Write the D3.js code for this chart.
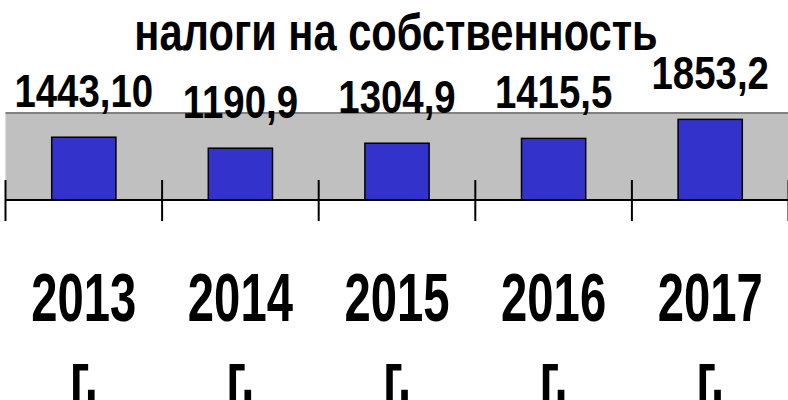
<!DOCTYPE html>
<html>
<head>
<meta charset="utf-8">
<script src="https://cdn.jsdelivr.net/npm/d3@7"></script>
<style>
  html, body { margin: 0; padding: 0; background: #fff; }
  svg { display: block; }
  text { font-family: "Liberation Sans", Arial, sans-serif; font-weight: bold; }
</style>
</head>
<body>
<div id="chart"></div>
<script>
// Data
const years = ["2013", "2014", "2015", "2016", "2017"];
const yearSuffix = "г.";
const values = [1443.10, 1190.9, 1304.9, 1415.5, 1853.2];
const valueLabels = ["1443,10", "1190,9", "1304,9", "1415,5", "1853,2"];
const chartTitle = "налоги на собственность";

// Constants
const WIDTH = 788;
const HEIGHT = 400;
const PLOT = { left: 5.5, right: 788.5, top: 113, bottom: 200 };
const Y_MAX = 2000;
const BAR_FRACTION = 0.41;
const BAR_FILL = "#3333cc";
const PLOT_FILL = "#c0c0c0";
// narrow look: regular bold font squeezed horizontally
const TITLE_SQUEEZE = 0.8;
const VALUE_SQUEEZE = 0.835;
const YEAR_SQUEEZE = 0.695;

const data = years.map((y, i) => ({ year: y, value: values[i], label: valueLabels[i] }));

const xScale = d3.scaleBand().domain(years).range([PLOT.left, PLOT.right]).padding(0);
const yScale = d3.scaleLinear().domain([0, Y_MAX]).range([PLOT.bottom, PLOT.top]);
const barW = xScale.bandwidth() * BAR_FRACTION;
const xMid = d => xScale(d) + xScale.bandwidth() / 2;

const svg = d3.select("#chart").append("svg")
  .attr("width", WIDTH)
  .attr("height", HEIGHT);

// Plot area background
svg.append("rect")
  .attr("x", PLOT.left)
  .attr("y", yScale(Y_MAX))
  .attr("width", PLOT.right - PLOT.left)
  .attr("height", yScale(0) - yScale(Y_MAX))
  .attr("fill", PLOT_FILL);

svg.append("line")
  .attr("x1", PLOT.left).attr("x2", PLOT.right)
  .attr("y1", yScale(Y_MAX)).attr("y2", yScale(Y_MAX))
  .attr("stroke", "#808080")
  .attr("stroke-width", 2);

// Title
svg.append("text")
  .attr("transform", `translate(396,49.5) scale(${TITLE_SQUEEZE},1)`)
  .attr("text-anchor", "middle")
  .attr("font-size", 52)
  .attr("fill", "#000")
  .text(chartTitle);

// Bars
svg.selectAll(".bar")
  .data(data)
  .enter().append("rect")
  .attr("class", "bar")
  .attr("x", d => xScale(d.year) + (xScale.bandwidth() - barW) / 2)
  .attr("y", d => yScale(d.value))
  .attr("width", barW)
  .attr("height", d => yScale(0) - yScale(d.value))
  .attr("fill", BAR_FILL)
  .attr("stroke", "#000")
  .attr("stroke-width", 1.5);

// Value labels
svg.selectAll(".value-label")
  .data(data)
  .enter().append("text")
  .attr("class", "value-label")
  .attr("transform", d => `translate(${xMid(d.year)},${yScale(d.value) - 30}) scale(${VALUE_SQUEEZE},1)`)
  .attr("text-anchor", "middle")
  .attr("font-size", 46)
  .attr("fill", "#000")
  .text(d => d.label);

// X axis: line, ticks at band edges, labels at centres
const axis = svg.append("g").attr("class", "x-axis");
axis.append("line")
  .attr("x1", PLOT.left).attr("x2", PLOT.right)
  .attr("y1", PLOT.bottom).attr("y2", PLOT.bottom)
  .attr("stroke", "#000")
  .attr("stroke-width", 2);

const edges = years.map(y => xScale(y)).concat([xScale(years[years.length - 1]) + xScale.bandwidth()]);
axis.selectAll(".tick-mark")
  .data(edges)
  .enter().append("line")
  .attr("class", "tick-mark")
  .attr("x1", d => d).attr("x2", d => d)
  .attr("y1", PLOT.bottom - 20).attr("y2", PLOT.bottom + 21)
  .attr("stroke", "#000")
  .attr("stroke-width", 2);

const tickLabels = axis.selectAll(".tick-label")
  .data(years)
  .enter().append("text")
  .attr("class", "tick-label")
  .attr("transform", d => `translate(${xMid(d)},0) scale(${YEAR_SQUEEZE},1)`)
  .attr("text-anchor", "middle")
  .attr("font-size", 68)
  .attr("fill", "#000");

tickLabels.append("tspan").attr("x", 0).attr("y", 321).text(d => d);
tickLabels.append("tspan").attr("x", 0).attr("y", 400).text(yearSuffix);
</script>
</body>
</html>
